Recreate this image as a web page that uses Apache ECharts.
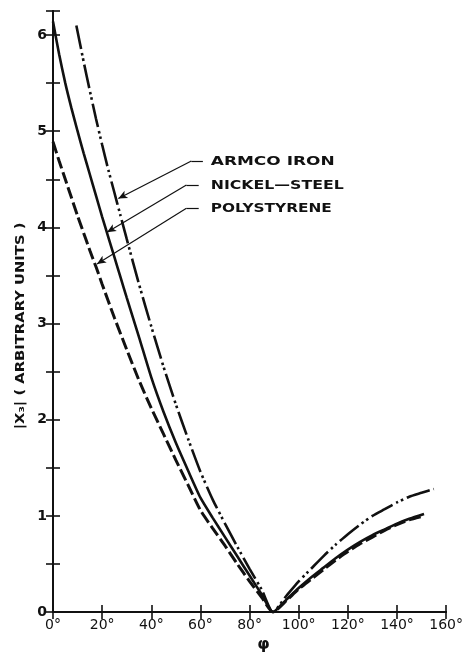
<!DOCTYPE html>
<html>
<head>
<meta charset="utf-8">
<script src="https://cdn.jsdelivr.net/npm/echarts@6/dist/echarts.min.js"></script>
<style>html,body{margin:0;padding:0;background:#fff}#c{width:466px;height:658px}</style>
</head>
<body>
<div id="c"></div>
<script>
// ---- data ----
const xTickLabels = ['0°','20°','40°','60°','80°','100°','120°','140°','160°'];
const yAxisTitle = '|X₃| ( ARBITRARY UNITS )';
const xAxisTitle = 'φ';

const armcoPhi = [9.5,12.5,15,17.5,20,22.5,25,27.5,30,35,40,45,50,55,60,65,70,75,80,85,89.5,95,100,105,110,115,120,125,130,135,140,145,150,155];
const armcoVal = [6.1,5.72,5.42,5.13,4.86,4.6,4.36,4.12,3.88,3.41,2.97,2.55,2.16,1.8,1.46,1.17,0.92,0.68,0.45,0.23,0,0.17,0.32,0.45,0.58,0.7,0.81,0.91,1.0,1.07,1.14,1.2,1.24,1.28];

const nickelPhi = [0,2.5,5,7.5,10,12.5,15,17.5,20,22.5,25,27.5,30,35,40,45,50,55,60,65,70,75,80,85,89.5,95,100,105,110,115,120,125,130,135,140,145,151];
const nickelVal = [6.14,5.8,5.5,5.24,5.0,4.77,4.55,4.33,4.11,3.9,3.69,3.48,3.27,2.86,2.44,2.08,1.76,1.47,1.19,0.98,0.78,0.58,0.38,0.18,0,0.13,0.25,0.36,0.46,0.56,0.65,0.73,0.8,0.86,0.92,0.97,1.02];

const polyPhi = [0,2.5,5,7.5,10,12.5,15,17.5,20,25,30,35,40,45,50,55,60,65,70,75,80,85,89.5,95,100,105,110,115,120,125,130,135,140,145,151];
const polyVal = [4.89,4.69,4.5,4.31,4.12,3.94,3.76,3.59,3.41,3.06,2.73,2.41,2.12,1.85,1.58,1.32,1.06,0.87,0.69,0.5,0.32,0.15,0,0.12,0.24,0.34,0.44,0.54,0.63,0.71,0.78,0.85,0.91,0.96,1.0];

// annotation labels and leader anchors (data coordinates)
const labelNames = ['ARMCO IRON','NICKEL—STEEL','POLYSTYRENE'];
const labelPos   = [[64.2,4.68],[64.2,4.43],[64.2,4.19]];
const hookPos    = [[61.0,4.69],[59.3,4.44],[59.3,4.20]];
const elbowPos   = [[56.3,4.69],[54.3,4.44],[54.3,4.20]];
const tipPos     = [[26.6,4.30],[22.0,3.95],[17.9,3.62]];

function zip(a,b){return a.map((x,i)=>[x,b[i]]);}

const FONT = 'DejaVu Sans';
const black = '#111';

function leader(i){
  return [
    [{coord:hookPos[i],symbol:'none'},{coord:elbowPos[i],symbol:'none'}],
    [{coord:elbowPos[i],symbol:'none'},{coord:tipPos[i],symbol:'arrow'}]
  ];
}

const chart = echarts.init(document.getElementById('c'));
const baseX = {type:'value',min:0,max:160,interval:20,
  axisLine:{show:true,lineStyle:{color:black,width:2}},
  axisTick:{show:true,inside:true,length:7,lineStyle:{color:black,width:1.6}},
  splitLine:{show:false}};
const baseY = {type:'value',min:0,max:6.25,interval:0.5,
  axisLine:{show:true,lineStyle:{color:black,width:2}},
  axisTick:{show:true,inside:true,length:7,lineStyle:{color:black,width:1.6}},
  splitLine:{show:false}};

chart.setOption({
  animation:false,
  backgroundColor:'#fff',
  grid:{left:53,right:17,top:11,bottom:32},
  xAxis:[
    Object.assign({},baseX,{position:'bottom',
      name:xAxisTitle,nameLocation:'middle',nameGap:22,
      nameTextStyle:{fontFamily:FONT,fontSize:16,color:black,fontWeight:'bold',padding:[0,0,0,28]},
      axisLabel:{show:true,margin:6,fontFamily:FONT,fontSize:14,color:black,
        formatter:(v)=>xTickLabels[Math.round(v/20)]}}),
    Object.assign({},baseX,{position:'top',axisLabel:{show:false}})
  ],
  yAxis:[
    Object.assign({},baseY,{position:'left',
      axisLabel:{show:true,margin:6,fontFamily:FONT,fontSize:14,fontWeight:'bold',color:black,
        formatter:(v)=>Number.isInteger(v)?String(v):''}}),
    Object.assign({},baseY,{position:'right',axisLabel:{show:false}})
  ],
  series:[
    {name:'ARMCO IRON',type:'line',data:zip(armcoPhi,armcoVal),smooth:0.2,showSymbol:false,
      lineStyle:{color:black,width:2.6,type:[24,4,2.5,3,2.5,4]},
      markLine:{silent:true,symbolSize:[6,9],lineStyle:{color:black,width:1.2,type:'solid'},label:{show:false},
        data:leader(0).concat(leader(1),leader(2))}},
    {name:'NICKEL-STEEL',type:'line',data:zip(nickelPhi,nickelVal),smooth:0.2,showSymbol:false,
      lineStyle:{color:black,width:2.6,type:'solid'}},
    {name:'POLYSTYRENE',type:'line',data:zip(polyPhi,polyVal),smooth:0.2,showSymbol:false,
      lineStyle:{color:black,width:3,type:[12,4]}}
  ]
});

// wide lettering: measure and stretch text horizontally
const ctx = document.createElement('canvas').getContext('2d');
function widthOf(str, font){ctx.font = font; return ctx.measureText(str).width;}
const annFont = 'bold 12px "DejaVu Sans"';
const annTarget = [124,133,121];
const nameFont = 'bold 13px "DejaVu Sans"';

const graphics = labelNames.map((n,i)=>{
  const p = chart.convertToPixel({xAxisIndex:0,yAxisIndex:0}, labelPos[i]);
  return {type:'text',x:p[0],y:p[1],scaleX:annTarget[i]/widthOf(n,annFont),
    style:{text:n,font:annFont,fill:black,textAlign:'left',textVerticalAlign:'middle'}};
});
const yTop = chart.convertToPixel({yAxisIndex:0}, 4.05);
const yBot = chart.convertToPixel({yAxisIndex:0}, 1.9);
graphics.push({type:'text',x:21,y:(yTop+yBot)/2,rotation:Math.PI/2,
  scaleX:(yBot-yTop)/widthOf(yAxisTitle,nameFont),
  style:{text:yAxisTitle,font:nameFont,fill:black,textAlign:'center',textVerticalAlign:'middle'}});
chart.setOption({graphic:graphics});
</script>
</body>
</html>
